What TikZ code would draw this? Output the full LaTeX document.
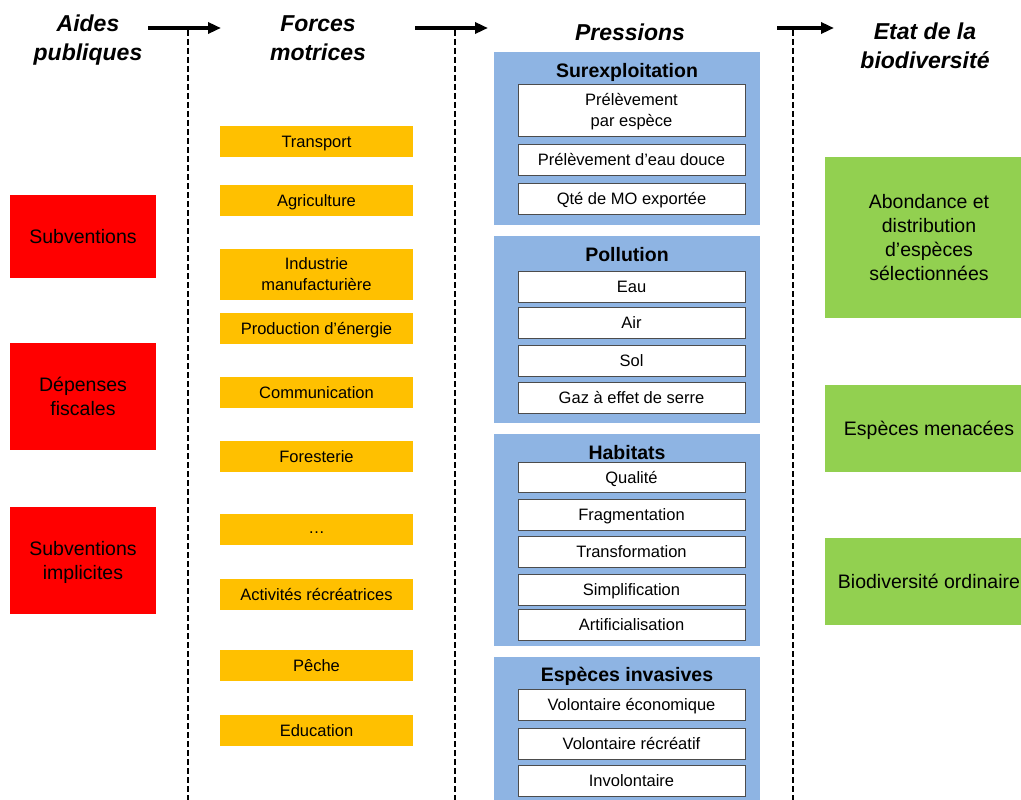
\documentclass[tikz,border=0pt]{standalone}
\usepackage{fontspec}
\setmainfont{Liberation Sans}
\usepackage{tikz}
\usetikzlibrary{arrows.meta}

\definecolor{rouge}{HTML}{FF0000}
\definecolor{orange}{HTML}{FFC000}
\definecolor{bleu}{HTML}{8EB4E3}
\definecolor{vert}{HTML}{92D050}

\begin{document}
\begin{tikzpicture}[%
    x=1pt, y=-1pt,
    every node/.style={text depth=0pt},
    titre/.style={font=\fontsize{23}{29}\selectfont\bfseries\itshape, align=center, inner sep=0pt},
    aide/.style={fill=rouge, minimum width=146pt, inner sep=0pt, align=center,
      font=\fontsize{19.5}{24}\selectfont},
    force/.style={fill=orange, minimum width=193pt, minimum height=31pt, inner sep=0pt,
      align=center, font=\fontsize{16.5}{21}\selectfont},
    panneau/.style={fill=bleu, minimum width=266pt, inner sep=0pt},
    soustitre/.style={font=\fontsize{19.5}{24}\selectfont\bfseries, inner sep=0pt},
    pression/.style={fill=white, draw=black!70, line width=0.8pt, minimum width=227pt,
      minimum height=31pt, inner sep=0pt, align=center, font=\fontsize{16.5}{21}\selectfont},
    etat/.style={fill=vert, minimum width=208pt, inner sep=0pt, align=center,
      font=\fontsize{19.5}{24}\selectfont},
    fleche/.style={-{Triangle[length=13pt,width=11pt]}, line width=3.5pt},
    separation/.style={line width=1.5pt, dash pattern=on 6pt off 3pt}]
    \clip (0,0) rectangle (1021,800);

    % titres
    \node[titre] (taides) at (88,38) {Aides\\publiques};
    \node[titre] (tforces) at (318,38) {Forces\\motrices};
    \node[titre] (tpressions) at (630,32) {Pressions};
    \node[titre] (tetat) at (925,46) {Etat de la\\biodiversit\'e};

    \coordinate (f1a) at (148,28);
    \coordinate (f1b) at (221,28);
    \coordinate (f2a) at (415,28);
    \coordinate (f2b) at (488,28);
    \coordinate (f3a) at (777,28);
    \coordinate (f3b) at (834,28);
    \draw[fleche] (f1a) -- (f1b);
    \draw[fleche] (f2a) -- (f2b);
    \draw[fleche] (f3a) -- (f3b);

    \coordinate (s1a) at (188,30);
    \coordinate (s1b) at (188,800);
    \coordinate (s2a) at (455,30);
    \coordinate (s2b) at (455,800);
    \coordinate (s3a) at (793,30);
    \coordinate (s3b) at (793,800);
    \draw[separation] (s1a) -- (s1b);
    \draw[separation] (s2a) -- (s2b);
    \draw[separation] (s3a) -- (s3b);

    % aides publiques
    \node[aide, minimum height=83pt] (subv) at (83,236.5) {Subventions};
    \node[aide, minimum height=107pt] (depfisc) at (83,396.5) {D\'epenses\\fiscales};
    \node[aide, minimum height=107pt] (subvimpl) at (83,560.5) {Subventions\\implicites};

    % forces motrices
    \node[force] (transport) at (316.5,141.5) {Transport};
    \node[force] (agri) at (316.5,200.5) {Agriculture};
    \node[force, minimum height=51pt] (industrie) at (316.5,274.5) {Industrie\\manufacturi\`ere};
    \node[force] (energie) at (316.5,328.5) {Production d’\'energie};
    \node[force] (comm) at (316.5,392.5) {Communication};
    \node[force] (forest) at (316.5,456.5) {Foresterie};
    \node[force] (autres) at (316.5,529.5) {\raisebox{-4pt}{…}};
    \node[force] (loisirs) at (316.5,594.5) {Activit\'es r\'ecr\'eatrices};
    \node[force] (peche) at (316.5,665.5) {P\^eche};
    \node[force] (educ) at (316.5,730.5) {Education};

    % pressions
    \node[panneau, minimum height=173pt] (surexpl) at (627,138.5) {};
    \node[soustitre] (tsurexpl) at (627,70) {Surexploitation};
    \node[pression, minimum height=52pt] (prelesp) at (631.5,110) {Pr\'el\`evement\\par esp\`ece};
    \node[pression] (preleau) at (631.5,159.5) {Pr\'el\`evement d’eau douce};
    \node[pression] (qtemo) at (631.5,198.5) {Qt\'e de MO export\'ee};

    \node[panneau, minimum height=187pt] (pollution) at (627,329.5) {};
    \node[soustitre] (tpollution) at (627,254) {Pollution};
    \node[pression] (eau) at (631.5,286.5) {Eau};
    \node[pression] (air) at (631.5,322.5) {Air};
    \node[pression] (sol) at (631.5,360.5) {Sol};
    \node[pression] (gaz) at (631.5,397.5) {Gaz \`a effet de serre};

    \node[panneau, minimum height=212pt] (habitats) at (627,540) {};
    \node[soustitre] (thabitats) at (627,452) {Habitats};
    \node[pression, minimum height=30pt] (qualite) at (631.5,477) {Qualit\'e};
    \node[pression] (fragm) at (631.5,514.5) {Fragmentation};
    \node[pression] (transf) at (631.5,551.5) {Transformation};
    \node[pression] (simpl) at (631.5,589.5) {Simplification};
    \node[pression] (artif) at (631.5,624.5) {Artificialisation};

    \node[panneau, minimum height=160pt] (invasives) at (627,737) {};
    \node[soustitre] (tinvasives) at (627,674) {Esp\`eces invasives};
    \node[pression] (voleco) at (631.5,704.5) {Volontaire \'economique};
    \node[pression] (volrec) at (631.5,743.5) {Volontaire r\'ecr\'eatif};
    \node[pression] (invol) at (631.5,780.5) {Involontaire};

    % etat de la biodiversite
    \node[etat, minimum height=161pt] (abond) at (929,237.5) {Abondance et\\distribution\\d’esp\`eces\\s\'electionn\'ees};
    \node[etat, minimum height=87pt] (menac) at (929,428.5) {Esp\`eces menac\'ees};
    \node[etat, minimum height=87pt] (ordin) at (929,581.5) {Biodiversit\'e ordinaire};
\end{tikzpicture}
\end{document}
